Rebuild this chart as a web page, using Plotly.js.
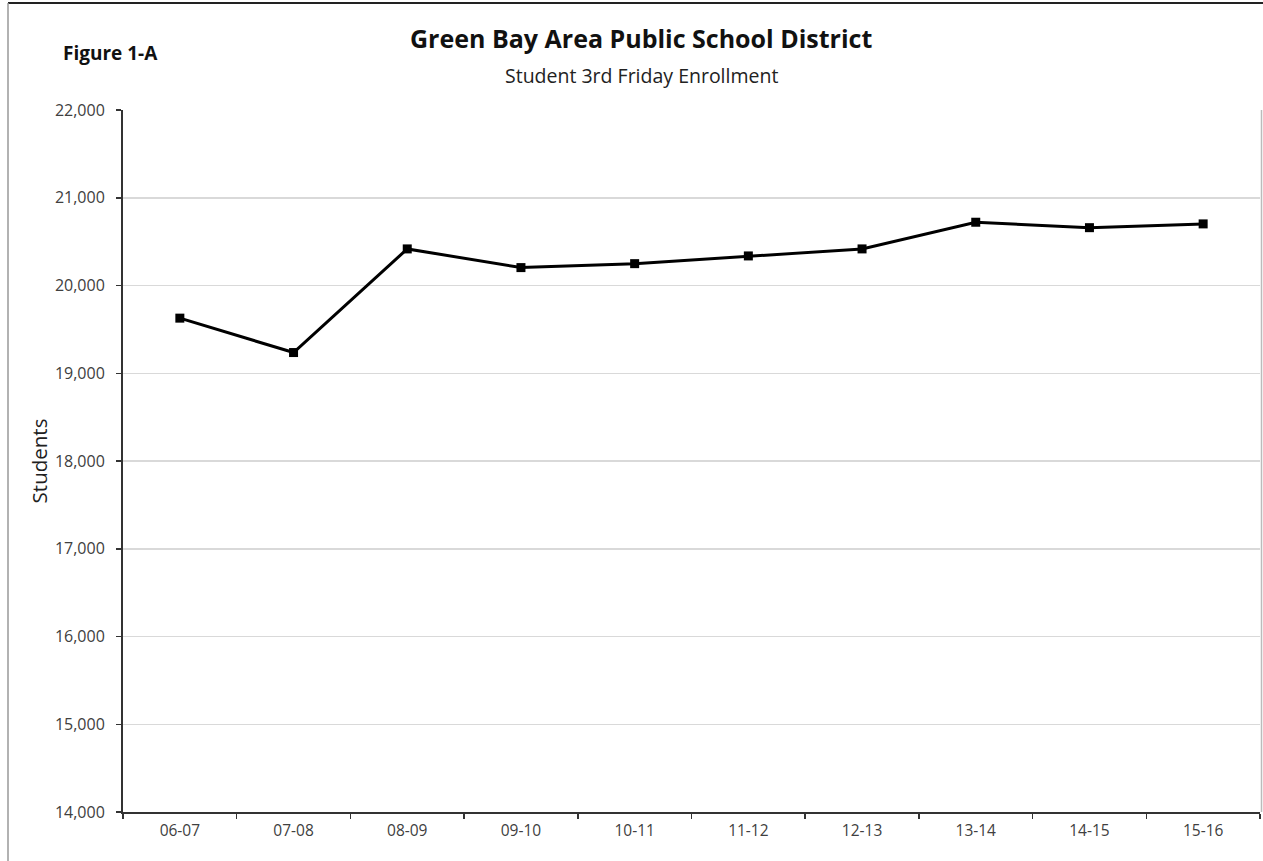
<!DOCTYPE html>
<html>
<head>
<meta charset="utf-8">
<script src="https://cdn.plot.ly/plotly-3.0.1.min.js"></script>
<style>
html,body{margin:0;padding:0;background:#fff;}
#chart{width:1263px;height:861px;}
</style>
</head>
<body>
<div id="chart"></div>
<script>
const years = ["06-07","07-08","08-09","09-10","10-11","11-12","12-13","13-14","14-15","15-16"];
const enrollment = [19628,19236,20417,20204,20249,20337,20417,20721,20659,20702];
const yTickVals = [14000,15000,16000,17000,18000,19000,20000,21000,22000];
const yTickText = ["14,000","15,000","16,000","17,000","18,000","19,000","20,000","21,000","22,000"];

const W = 1263, H = 861;
const L = 123, R = 3, T = 110, B = 49;
const pw = W - L - R, ph = H - T - B;
const px = x => (x - L) / pw;
const py = y => (H - B - y) / ph;

const font = "'Open Sans', 'Liberation Sans', sans-serif";

const trace = {
  x: years, y: enrollment, type: "scatter", mode: "lines+markers",
  line: {color: "#000", width: 3},
  marker: {symbol: "square", size: 9, color: "#000"},
  hoverinfo: "skip"
};

const layout = {
  width: W, height: H,
  margin: {l: L, r: R, t: T, b: B},
  paper_bgcolor: "#fff", plot_bgcolor: "#fff",
  showlegend: false,
  font: {family: font, color: "#404040", size: 15},
  xaxis: {
    type: "category", tickson: "boundaries", ticks: "outside", ticklen: 5, tickwidth: 1.5,
    tickcolor: "#333", showline: true, linecolor: "#333", linewidth: 2,
    showgrid: false, zeroline: false, range: [-0.5, 9.5], ticklabelstandoff: 3,
    tickfont: {family: font, size: 15.5, color: "#404040"}
  },
  yaxis: {
    range: [14000, 22000], tickvals: yTickVals, ticktext: yTickText,
    ticks: "outside", ticklen: 5, tickwidth: 1.5, tickcolor: "#333",
    showline: true, linecolor: "#333", linewidth: 2, ticklabelstandoff: 8,
    showgrid: true, gridcolor: "#d9d9d9", gridwidth: 1.5, zeroline: false,
    tickfont: {family: font, size: 16, color: "#404040"},
    title: {text: "Students", font: {family: font, size: 20.5, color: "#202020"}, standoff: 2}
  },
  annotations: [
    {text: "<b>Green Bay Area Public School District</b>", xref: "paper", yref: "paper",
     x: px(641), y: py(38), showarrow: false, xanchor: "center", yanchor: "middle",
     font: {family: font, size: 25, color: "#111"}},
    {text: "Student 3rd Friday Enrollment", xref: "paper", yref: "paper",
     x: px(641), y: py(75), showarrow: false, xanchor: "center", yanchor: "middle",
     font: {family: font, size: 19.5, color: "#222"}},
    {text: "<b>Figure 1-A</b>", xref: "paper", yref: "paper",
     x: px(61), y: py(53), showarrow: false, xanchor: "left", yanchor: "middle",
     font: {family: font, size: 19, color: "#111"}}
  ],
  shapes: [
    {type: "line", xref: "paper", yref: "paper", x0: px(8), x1: px(1263), y0: py(3), y1: py(3),
     line: {color: "#222", width: 2}},
    {type: "line", xref: "paper", yref: "paper", x0: px(8), x1: px(8), y0: py(3), y1: py(861),
     line: {color: "#999", width: 1.5}},
    {type: "line", xref: "paper", yref: "paper", x0: px(1261.5), x1: px(1261.5), y0: py(110), y1: py(812),
     line: {color: "#bbb", width: 1.5}}
  ]
};

Plotly.newPlot("chart", [trace], layout, {displayModeBar: false, staticPlot: true});
</script>
</body>
</html>
